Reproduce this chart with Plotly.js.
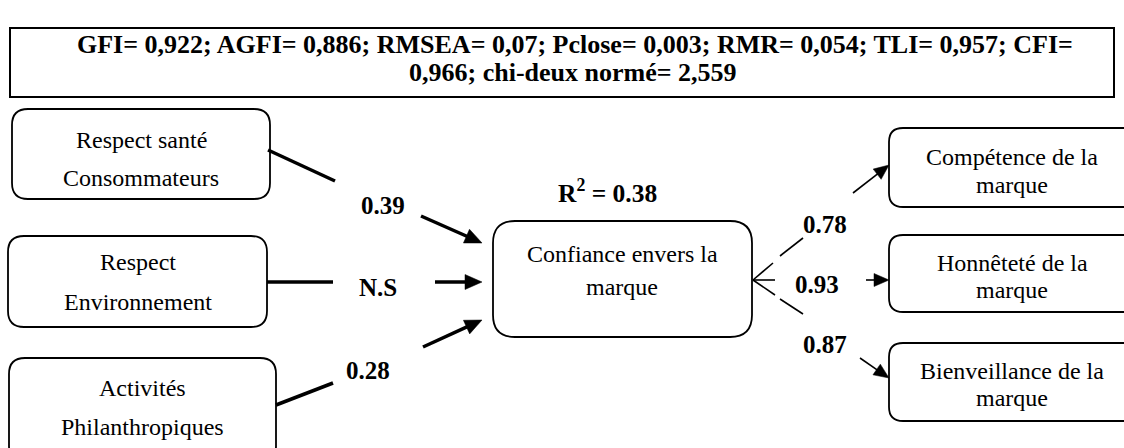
<!DOCTYPE html>
<html>
<head>
<meta charset="utf-8">
<script src="https://cdn.plot.ly/plotly-3.0.1.min.js"></script>
<style>
html,body{margin:0;padding:0;background:#fff;}
#chart{width:1124px;height:448px;}
</style>
</head>
<body>
<div id="chart"></div>
<script>
// ---- data ----
const fitIndices = ['GFI', 'AGFI', 'RMSEA', 'Pclose', 'RMR', 'TLI', 'CFI', 'chi-deux normé'];
const fitValues = ['0,922', '0,886', '0,07', '0,003', '0,054', '0,957', '0,966', '2,559'];
const antecedentLines = [['Respect santé', 'Consommateurs'], ['Respect', 'Environnement'], ['Activités', 'Philanthropiques']];
const centralLines = ['Confiance envers la', 'marque'];
const dimensionLines = [['Compétence de la', 'marque'], ['Honnêteté de la', 'marque'], ['Bienveillance de la', 'marque']];
const pathCoefs = ['0.39', 'N.S', '0.28'];
const loadings = ['0.78', '0.93', '0.87'];
const rSquared = '0.38';

// ---- layout geometry ----
const FONT = '"Liberation Serif", "Times New Roman", serif';
const leftBoxes = [[12, 109, 270, 199], [8, 236, 267, 327], [9, 358, 276, 462]];
const leftTextY = [[140, 178], [262, 302], [388, 427]];
const centerBox = [493, 221, 752, 337];
const centerTextY = [254, 287];
const rightBoxes = [[889, 128, 1140, 207], [889, 235, 1140, 312], [889, 343, 1140, 421]];
const rightTextY = [[157, 185], [263, 290], [371, 398]];
const inLines = [[268, 150, 335, 181], [267, 282, 333, 282], [276, 405, 333, 383]];
const inArrows = [[421, 216, 482, 243], [435, 282, 482, 282], [423, 347, 482, 320]];
const coefPos = [[383, 205], [378, 287], [368, 370]];
const outSegs = [
  [[753, 280, 773, 263], [780, 256, 803, 238]],
  [[753, 280, 775, 280]],
  [[753, 280, 775, 295], [780, 299, 803, 314]]
];
const outArrows = [[853, 193, 889, 165], [866, 280, 889, 280], [860, 358, 889, 378]];
const loadPos = [[825, 224], [817, 284], [825, 344]];

function rrect(b, r) {
  const [x0, y0, x1, y1] = b;
  return `M${x0 + r},${y0} L${x1 - r},${y0} Q${x1},${y0} ${x1},${y0 + r} L${x1},${y1 - r} Q${x1},${y1} ${x1 - r},${y1} L${x0 + r},${y1} Q${x0},${y1} ${x0},${y1 - r} L${x0},${y0 + r} Q${x0},${y0} ${x0 + r},${y0} Z`;
}

const shapes = [];
const annotations = [];
function txt(x, y, t, size) {
  annotations.push({x: x, y: y, xref: 'x', yref: 'y', text: t, showarrow: false, font: {family: FONT, size: size, color: '#000'}});
}
function arrow(a, width, headLen, headHalf) {
  const [x0, y0, x1, y1] = a;
  const dx = x1 - x0, dy = y1 - y0, len = Math.hypot(dx, dy);
  const ux = dx / len, uy = dy / len;
  const bx = x1 - ux * headLen, by = y1 - uy * headLen;
  shapes.push({type: 'line', x0: x0, y0: y0, x1: bx + ux, y1: by + uy, line: {color: '#000', width: width}});
  const px = -uy * headHalf, py = ux * headHalf;
  shapes.push({type: 'path', path: `M${x1},${y1} L${bx + px},${by + py} L${bx - px},${by - py} Z`, fillcolor: '#000', line: {color: '#000', width: 0.5}});
}

// top fit box
shapes.push({type: 'rect', x0: 10, y0: 28, x1: 1114, y1: 97, line: {color: '#000', width: 2}});
const pairs = fitIndices.map((k, i) => k + '= ' + fitValues[i]);
const line1 = pairs.slice(0, 6).join('; ') + '; ' + fitIndices[6] + '=';
const line2 = fitValues[6] + '; ' + pairs[7];
txt(575, 44, '<b>' + line1 + '</b>', 26);
txt(573, 72, '<b>' + line2 + '</b>', 26);

function boxText(lines, xc, ys) {
  lines.forEach((t, i) => txt(xc, ys[i], t, 24));
}

leftBoxes.forEach((b, i) => {
  shapes.push({type: 'path', path: rrect(b, 16), line: {color: '#000', width: 1.8}});
  boxText(antecedentLines[i], (b[0] + b[2]) / 2, leftTextY[i]);
});
shapes.push({type: 'path', path: rrect(centerBox, 22), line: {color: '#000', width: 1.8}});
boxText(centralLines, 622, centerTextY);
rightBoxes.forEach((b, i) => {
  shapes.push({type: 'path', path: rrect(b, 14), line: {color: '#000', width: 1.8}});
  boxText(dimensionLines[i], 1012, rightTextY[i]);
});

// incoming paths
inLines.forEach(l => shapes.push({type: 'line', x0: l[0], y0: l[1], x1: l[2], y1: l[3], line: {color: '#000', width: 3.5}}));
inArrows.forEach(a => arrow(a, 3.5, 17, 7.5));
pathCoefs.forEach((c, i) => txt(coefPos[i][0], coefPos[i][1], '<b>' + c + '</b>', 25));
txt(607, 191, '<b>R<sup>2</sup> = ' + rSquared + '</b>', 25.5);

// outgoing loadings
outSegs.forEach(segs => segs.forEach(l => shapes.push({type: 'line', x0: l[0], y0: l[1], x1: l[2], y1: l[3], line: {color: '#000', width: 1.6}})));
outArrows.forEach(a => arrow(a, 1.6, 15, 6.5));
loadings.forEach((c, i) => txt(loadPos[i][0], loadPos[i][1], '<b>' + c + '</b>', 25));

shapes.forEach(s => { s.xref = 'x'; s.yref = 'y'; });

const layout = {
  width: 1124, height: 448,
  margin: {l: 0, r: 0, t: 0, b: 0},
  font: {family: FONT, color: '#000'},
  paper_bgcolor: '#fff', plot_bgcolor: '#fff',
  xaxis: {range: [0, 1124], visible: false, fixedrange: true},
  yaxis: {range: [448, 0], visible: false, fixedrange: true},
  showlegend: false,
  shapes: shapes,
  annotations: annotations
};
Plotly.newPlot('chart', [], layout, {displayModeBar: false, staticPlot: true});
</script>
</body>
</html>
